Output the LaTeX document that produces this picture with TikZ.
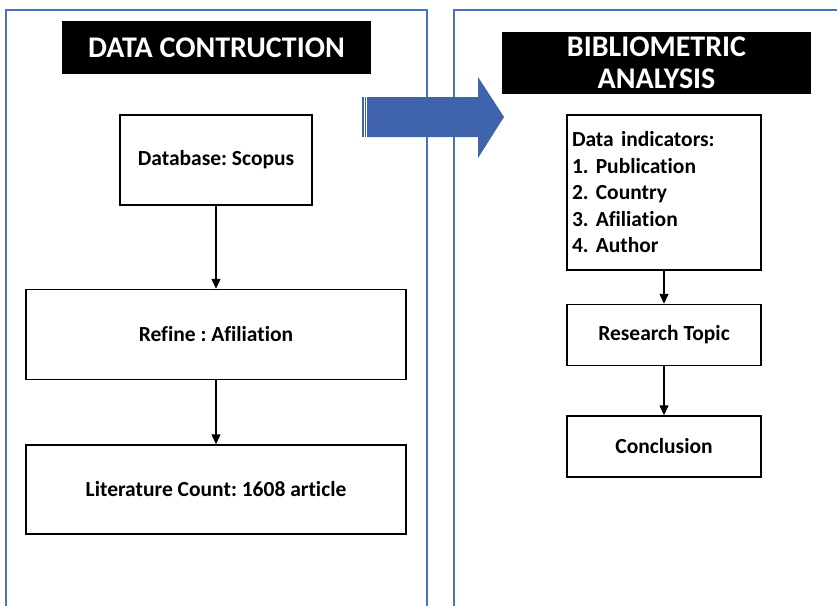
\documentclass[tikz,border=0pt]{standalone}
\usepackage{fontspec}
\setmainfont{Carlito}[Ligatures=NoCommon]
\frenchspacing
\usetikzlibrary{arrows.meta,positioning}
\definecolor{panelblue}{HTML}{4472C4}
\definecolor{arrowblue}{HTML}{3F63AC}
\tikzset{
  panel/.style={draw=panelblue,line width=2.8pt},
  title/.style={fill=black,text=white,inner sep=0pt,align=center,font=\bfseries\fontsize{30}{32}\selectfont},
  box/.style={draw,line width=1.5pt,fill=white,inner sep=5pt,font=\bfseries\fontsize{21.5}{26.5}\selectfont},
  arr/.style={-{Triangle[length=10pt,width=9pt]},line width=1.5pt},
}
\begin{document}
\begin{tikzpicture}[x=1pt,y=-1pt]
 \useasboundingbox (0,0) rectangle (837,605);
 % panels
 \draw[panel] (6,615) -- (6,10) -- (427,10) -- (427,615);
 \draw[panel] (454,615) -- (454,10) -- (850,10);
 % titles
 \node[title,minimum width=309pt,minimum height=53pt] (tdata) at (216.5,47.5) {DATA CONTRUCTION};
 \node[title,minimum width=309pt,minimum height=62pt] (tbib) at (656.5,63) {BIBLIOMETRIC\\ANALYSIS};
 % big arrow between the panels
 \fill[arrowblue] (362,97) rectangle (363.5,137);
 \fill[arrowblue] (364.5,97) rectangle (366,137);
 \fill[arrowblue] (367,97) -- (478,97) -- (478,77) -- (504,117) -- (478,158) -- (478,137) -- (367,137) -- cycle;
 % left flow
 \node[box,minimum width=192pt,minimum height=90pt] (db) at (216,160) {Database: Scopus};
 \node[box,minimum width=380pt,minimum height=90pt,below=83pt of db] (refine) {Refine : Afiliation};
 \node[box,minimum width=380pt,minimum height=89pt,below=64pt of refine] (lit) {Literature Count: 1608 article};
 \draw[arr] (db) -- (db.south |- refine.north);
 \draw[arr] (refine) -- (refine.south |- lit.north);
 % right flow
 \node[box,minimum width=194pt,minimum height=155pt,text width=184pt,inner xsep=4pt,align=left] (ind) at (664,192.5)
   {Data indicators:\\1. Publication\\2. Country\\3. Afiliation\\4. Author};
 \node[box,minimum width=194pt,minimum height=61pt,below=33pt of ind] (topic) {Research Topic};
 \node[box,minimum width=194pt,minimum height=61pt,below=49pt of topic] (concl) {Conclusion};
 \draw[arr] (ind) -- (topic);
 \draw[arr] (topic) -- (concl);
\end{tikzpicture}
\end{document}
